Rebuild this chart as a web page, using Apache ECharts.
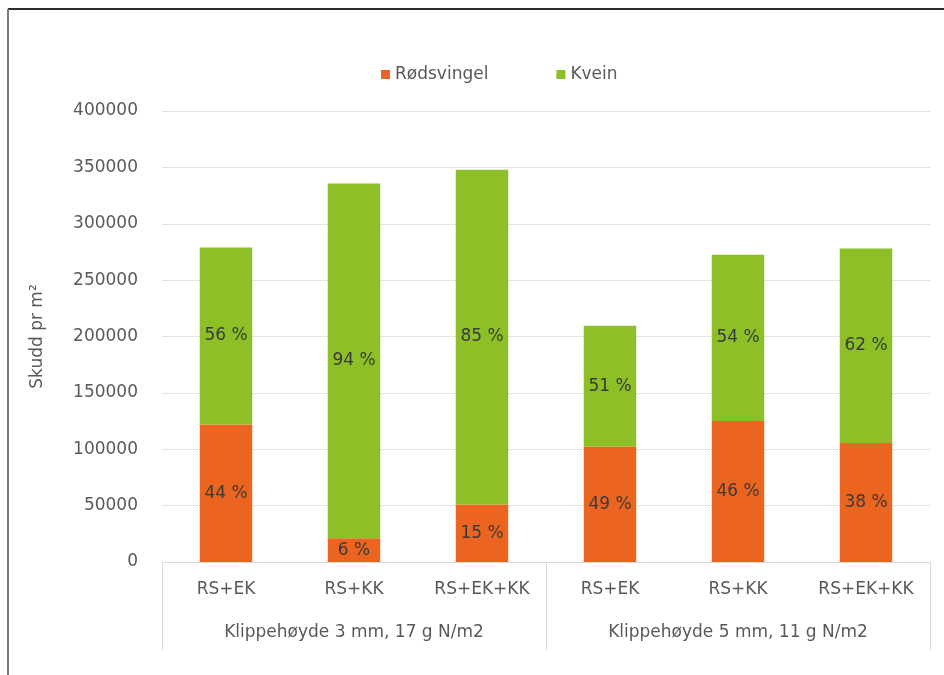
<!DOCTYPE html>
<html>
<head>
<meta charset="utf-8">
<script src="https://cdn.jsdelivr.net/npm/echarts@6/dist/echarts.min.js"></script>
<style>
  html, body { margin: 0; padding: 0; background: #ffffff; }
  #chart { width: 944px; height: 675px; }
</style>
</head>
<body>
<div id="chart"></div>
<script>
// Shoot counts per m² for each seed mixture, split by species
const mixtures = ['RS+EK', 'RS+KK', 'RS+EK+KK', 'RS+EK', 'RS+KK', 'RS+EK+KK'];
const treatments = ['Klippehøyde 3 mm, 17 g N/m2', 'Klippehøyde 5 mm, 11 g N/m2'];
const rodsvingel = [122000, 21000, 51000, 102500, 125000, 105500];
const kvein = [157000, 314600, 297000, 107000, 147500, 172500];
const yTicks = { min: 0, max: 400000, interval: 50000 };

const totals = rodsvingel.map((v, i) => v + kvein[i]);
const pct = (arr) => (p) => Math.round(arr[p.dataIndex] / totals[p.dataIndex] * 100) + ' %';

const FONT = '"DejaVu Sans", sans-serif';
const TEXT = '#595959';
const SIZE = 17;

const chart = echarts.init(document.getElementById('chart'), null, { renderer: 'canvas' });
chart.setOption({
  backgroundColor: '#ffffff',
  animation: false,
  textStyle: { fontFamily: FONT },
  graphic: [
    { type: 'line', shape: { x1: 8, y1: 9, x2: 944, y2: 9 }, style: { stroke: '#2b2b2b', lineWidth: 2 } },
    { type: 'line', shape: { x1: 8, y1: 9, x2: 8, y2: 675 }, style: { stroke: '#7a7a7a', lineWidth: 2 } }
  ],
  legend: {
    top: 61,
    left: 376,
    icon: 'rect',
    itemWidth: 9,
    itemHeight: 9,
    itemGap: 68,
    textStyle: { fontFamily: FONT, fontSize: SIZE, color: TEXT },
    data: ['Rødsvingel', 'Kvein']
  },
  grid: { left: 162, right: 14, top: 111, bottom: 113, containLabel: false },
  xAxis: [
    {
      type: 'category',
      data: mixtures,
      position: 'bottom',
      axisLine: { show: true, lineStyle: { color: '#d9d9d9', width: 1 } },
      axisTick: { show: false },
      axisLabel: { margin: 19, fontSize: SIZE, color: TEXT, fontFamily: FONT }
    },
    {
      type: 'category',
      data: treatments,
      position: 'bottom',
      axisLine: { show: false },
      axisTick: { show: true, length: 88, lineStyle: { color: '#d9d9d9' } },
      axisLabel: { margin: 62, fontSize: SIZE, color: TEXT, fontFamily: FONT }
    }
  ],
  yAxis: {
    type: 'value',
    min: yTicks.min,
    max: yTicks.max,
    interval: yTicks.interval,
    name: 'Skudd pr m²',
    nameLocation: 'middle',
    nameGap: 116,
    nameTextStyle: { fontSize: SIZE, color: TEXT, fontFamily: FONT },
    axisLine: { show: false },
    axisTick: { show: false },
    axisLabel: { margin: 24, fontSize: SIZE, color: TEXT, fontFamily: FONT, formatter: (v) => String(v) },
    splitLine: { lineStyle: { color: '#e3e3e3', width: 1 } }
  },
  series: [
    {
      name: 'Rødsvingel',
      type: 'bar',
      stack: 'skudd',
      barWidth: '41%',
      data: rodsvingel,
      itemStyle: { color: '#EB6420' },
      label: { show: true, position: 'inside', formatter: pct(rodsvingel), color: '#3a3a3a', fontSize: SIZE, fontFamily: FONT }
    },
    {
      name: 'Kvein',
      type: 'bar',
      stack: 'skudd',
      barWidth: '41%',
      data: kvein,
      itemStyle: { color: '#8DBF27' },
      label: { show: true, position: 'inside', formatter: pct(kvein), color: '#3a3a3a', fontSize: SIZE, fontFamily: FONT }
    }
  ]
});
</script>
</body>
</html>
